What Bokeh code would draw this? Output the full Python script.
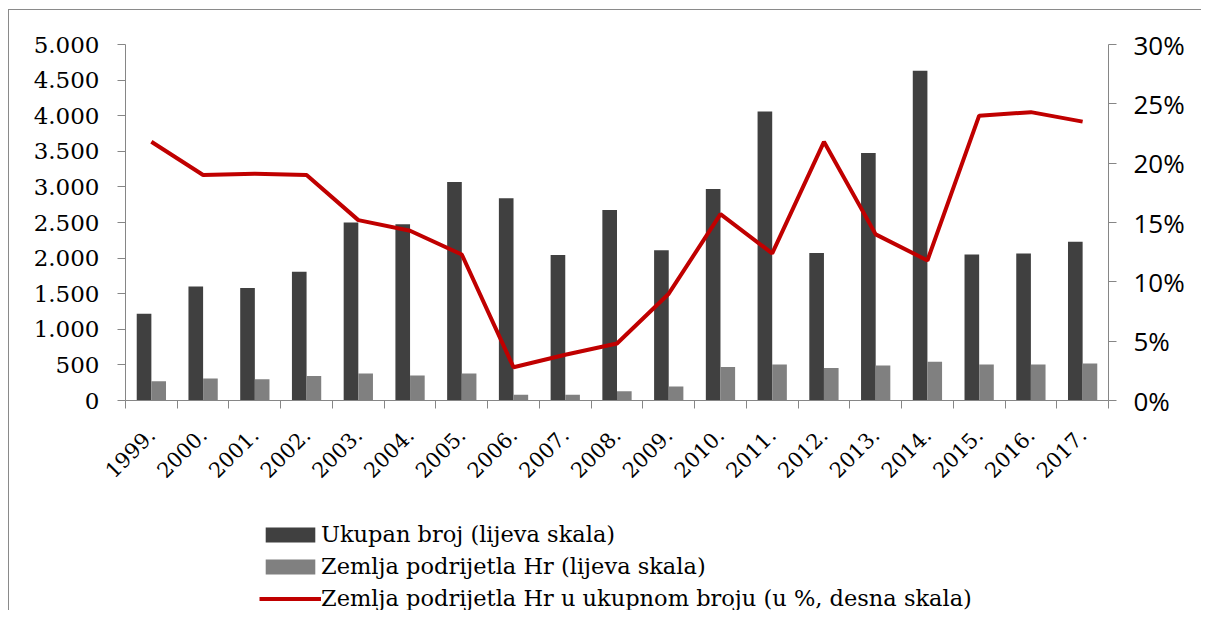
import numpy as np
from bokeh.plotting import figure
from bokeh.layouts import column
from bokeh.models import (ColumnDataSource, Range1d, LinearAxis, FixedTicker,
                          Legend, LegendItem)
from bokeh.transform import dodge
from bokeh.embed import file_html
from bokeh.resources import INLINE

# ---------------- data ----------------
years = ["1999.", "2000.", "2001.", "2002.", "2003.", "2004.", "2005.", "2006.",
         "2007.", "2008.", "2009.", "2010.", "2011.", "2012.", "2013.", "2014.",
         "2015.", "2016.", "2017."]
ukupan = [1220, 1600, 1580, 1810, 2500, 2475, 3070, 2840, 2045, 2675, 2110,
          2970, 4060, 2070, 3475, 4630, 2050, 2065, 2230]
hr = [270, 310, 300, 345, 380, 350, 380, 80, 80, 130, 195, 470, 505, 455, 490,
      545, 505, 505, 520]
pct = [21.8, 19.0, 19.1, 19.0, 15.2, 14.3, 12.3, 2.8, 3.85, 4.8, 9.0, 15.7,
       12.4, 21.8, 14.0, 11.8, 24.0, 24.3, 23.5]
left_ticks = [0, 500, 1000, 1500, 2000, 2500, 3000, 3500, 4000, 4500, 5000]
right_ticks = [0, 5, 10, 15, 20, 25, 30]
legend_labels = ["Ukupan broj (lijeva skala)",
                 "Zemlja podrijetla Hr (lijeva skala)",
                 "Zemlja podrijetla Hr u ukupnom broju (u %, desna skala)"]

n = len(years)
xpos = [i + 0.5 for i in range(n)]
src = ColumnDataSource(dict(x=xpos, ukupan=ukupan, hr=hr, pct=pct))

GRID = "#868686"
DARK = "#404040"
LIGHT = "#808080"
RED = "#C00000"
BW = 0.283

p = figure(width=1192, height=500, output_backend="svg", toolbar_location=None,
           x_range=Range1d(0, n), y_range=Range1d(0, 5000),
           min_border_left=116, min_border_right=93, min_border_top=34,
           min_border_bottom=110, x_axis_type=None, y_axis_type=None)
p.outline_line_color = None
p.background_fill_color = "white"
p.border_fill_color = "white"

p.extra_y_ranges = {"pct": Range1d(0, 30)}

# left axis
laxis = LinearAxis(ticker=FixedTicker(ticks=left_ticks, minor_ticks=[]))
laxis.major_label_overrides = {v: f"{v:,}".replace(",", ".") for v in left_ticks}
laxis.axis_line_color = GRID
laxis.major_tick_line_color = GRID
laxis.major_tick_out = 8
laxis.major_tick_in = 0
laxis.minor_tick_line_color = None
laxis.major_label_standoff = 18
laxis.major_label_text_font = "DejaVu Serif"
laxis.major_label_text_font_size = "23px"
laxis.major_label_text_color = "black"
p.add_layout(laxis, "left")

# right axis
raxis = LinearAxis(y_range_name="pct", ticker=FixedTicker(ticks=right_ticks, minor_ticks=[]))
raxis.major_label_overrides = {v: f"{v}%" for v in right_ticks}
raxis.axis_line_color = GRID
raxis.major_tick_line_color = GRID
raxis.major_tick_out = 8
raxis.major_tick_in = 0
raxis.minor_tick_line_color = None
raxis.major_label_standoff = 17
raxis.major_label_text_font = "Open Sans"
raxis.major_label_text_font_size = "26px"
raxis.major_label_text_color = "black"
p.add_layout(raxis, "right")

# bottom axis
baxis = LinearAxis(ticker=FixedTicker(ticks=xpos, minor_ticks=list(range(n + 1))))
baxis.major_label_overrides = {x: y for x, y in zip(xpos, years)}
baxis.axis_line_color = GRID
baxis.major_tick_line_color = None
baxis.minor_tick_line_color = GRID
baxis.minor_tick_out = 8
baxis.minor_tick_in = 0
baxis.major_label_orientation = np.pi / 4
baxis.major_label_standoff = 23
baxis.major_label_text_font = "DejaVu Serif"
baxis.major_label_text_font_size = "21px"
baxis.major_label_text_color = "black"
p.add_layout(baxis, "below")

# grid
p.ygrid.ticker = FixedTicker(ticks=left_ticks)
p.ygrid.grid_line_color = GRID
p.ygrid.grid_line_width = 1
p.xgrid.grid_line_color = None

p.vbar(x=dodge("x", -BW / 2, range=p.x_range), top="ukupan", width=BW,
       source=src, fill_color=DARK, line_color=None)
p.vbar(x=dodge("x", BW / 2, range=p.x_range), top="hr", width=BW,
       source=src, fill_color=LIGHT, line_color=None)
p.line(x="x", y="pct", source=src, y_range_name="pct", line_color=RED,
       line_width=4)

# ---------------- legend strip ----------------
q = figure(width=1192, height=100, output_backend="svg", toolbar_location=None,
           x_range=Range1d(0, 1), y_range=Range1d(0, 1),
           min_border_left=116, min_border_right=93, min_border_top=0,
           min_border_bottom=0, x_axis_type=None, y_axis_type=None)
q.outline_line_color = None
q.background_fill_color = "white"
q.border_fill_color = "white"
q.xgrid.grid_line_color = None
q.ygrid.grid_line_color = None
# legend-only renderers with no drawable data
nan = float("nan")
k1 = q.vbar(x=[nan], top=[nan], width=1, fill_color=DARK, line_color=None)
k2 = q.vbar(x=[nan], top=[nan], width=1, fill_color=LIGHT, line_color=None)
k3 = q.line(x=[nan, nan], y=[nan, nan], line_color=RED, line_width=4)

legend = Legend(items=[LegendItem(label=legend_labels[0], renderers=[k1]),
                       LegendItem(label=legend_labels[1], renderers=[k2]),
                       LegendItem(label=legend_labels[2], renderers=[k3])],
                location=(134, -1), orientation="vertical")
legend.glyph_width = 62
legend.glyph_height = 19
legend.label_height = 24
legend.spacing = 6
legend.padding = 0
legend.margin = 0
legend.label_standoff = 0
legend.border_line_color = None
legend.background_fill_alpha = 0
legend.label_text_font = "DejaVu Serif"
legend.label_text_font_size = "22.5px"
legend.label_text_color = "black"
q.add_layout(legend, "center")

layout = column(p, q, spacing=0)
layout.styles = {"margin-left": "8px", "margin-top": "9px",
                 "border-left": "1px solid #8a8a8a", "border-top": "1px solid #8a8a8a"}

open("out.html", "w").write(file_html(layout, INLINE))
